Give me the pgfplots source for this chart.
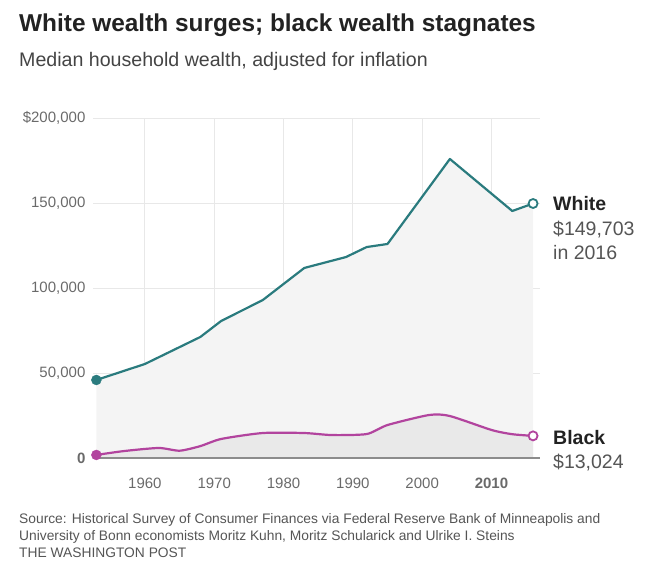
\documentclass[border=0pt]{standalone}
\usepackage{fontspec}
\setmainfont{Liberation Sans}
\usepackage{pgfplots}
\pgfplotsset{compat=1.18}
\definecolor{teal2}{HTML}{2A7B7E}
\definecolor{mag}{HTML}{B2449E}
\definecolor{gridc}{HTML}{E8E8E8}
\definecolor{lab}{HTML}{6A6A6A}
\definecolor{fillw}{HTML}{F4F4F4}
\definecolor{fillb}{HTML}{E9E9E9}
\definecolor{titc}{HTML}{222222}
\definecolor{subc}{HTML}{444444}
\definecolor{srcc}{HTML}{555555}
\definecolor{basec}{HTML}{8C8C8C}

\pgfplotstableread{
year value
1953 45900
1960 55300
1968 71200
1971 80600
1977 92900
1983 111800
1989 118200
1992 124100
1995 125900
2004 175900
2007 165700
2010 155500
2013 145300
2016 149703
}\whitedata

\pgfplotstableread{
year value
1953 1800
1957 4100
1962 5900
1965 4300
1968 7000
1971 11200
1977 14700
1983 14700
1987 13500
1992 14100
1995 19400
2001 25300
2004 24700
2010 16500
2013 14000
2016 13024
}\blackdata

\begin{document}
\begin{tikzpicture}[x=1pt,y=1pt]
\useasboundingbox (0,0) rectangle (652,-563);
\begin{axis}[
  at={(92.9pt,-458pt)}, anchor=south west,
  scale only axis, width=447.1pt, height=340pt,
  xmin=1952.5, xmax=2017, ymin=0, ymax=200000,
  scaled y ticks=false,
  axis line style={draw=none},
  major tick length=0pt,
  grid=major, grid style={gridc, line width=1pt},
  xtick={1960,1970,1980,1990,2000,2010},
  xticklabels={1960,1970,1980,1990,2000,\textbf{2010}},
  ytick={0,50000,100000,150000,200000},
  yticklabels={\textbf{0},{50,000},{100,000},{150,000},{\$200,000}},
  /pgf/number format/assume math mode=true,
  ticklabel style={font=\fontsize{15}{15}\selectfont, text=lab},
  xticklabel style={yshift=-16.5pt},
  yticklabel style={xshift=-4pt},
  clip=false,
  axis on top=false,
]
\addplot[draw=none, fill=fillw] table[x=year,y=value] {\whitedata} \closedcycle;
\addplot[draw=none, fill=fillb, smooth, tension=0.4] table[x=year,y=value] {\blackdata} \closedcycle;
\draw[basec, line width=2pt] (axis cs:1952.5,0) -- (axis cs:2017,0);
\addplot[teal2, line width=2.2pt, line join=round] table[x=year,y=value] {\whitedata};
\addplot[mag, line width=2.2pt, smooth, tension=0.4] table[x=year,y=value] {\blackdata};
\addplot[only marks, mark=*, mark size=5pt, teal2] coordinates {(1953,45900)};
\addplot[only marks, mark=*, mark size=5pt, mag] coordinates {(1953,1800)};
\addplot[only marks, mark=*, mark size=4.5pt, mark options={fill=white, draw=teal2, line width=1.8pt}] coordinates {(2016,149703)};
\addplot[only marks, mark=*, mark size=4.5pt, mark options={fill=white, draw=mag, line width=1.8pt}] coordinates {(2016,13024)};
\end{axis}
% titles
\node[anchor=base west, inner sep=0, text=titc, font=\fontsize{24.4}{28}\selectfont\bfseries] at (19,-31) {White wealth surges; black wealth stagnates};
\node[anchor=base west, inner sep=0, text=subc, font=\fontsize{19.6}{24}\selectfont] at (19,-66) {Median household wealth, adjusted for inflation};
% end labels
\node[anchor=base west, inner sep=0, text=titc, font=\fontsize{19.5}{24}\selectfont\bfseries] at (553,-210) {White};
\node[anchor=base west, inner sep=0, text=srcc, font=\fontsize{19.5}{24}\selectfont] at (553,-235) {\$149,703};
\node[anchor=base west, inner sep=0, text=srcc, font=\fontsize{19.5}{24}\selectfont] at (553,-259) {in 2016};
\node[anchor=base west, inner sep=0, text=titc, font=\fontsize{19.5}{24}\selectfont\bfseries] at (553,-444) {Black};
\node[anchor=base west, inner sep=0, text=srcc, font=\fontsize{19.5}{24}\selectfont] at (553,-468) {\$13,024};
% source
\node[anchor=base west, inner sep=0, text=srcc, font=\fontsize{13.8}{16}\selectfont] at (19,-523) {Source: Historical Survey of Consumer Finances via Federal Reserve Bank of Minneapolis and};
\node[anchor=base west, inner sep=0, text=srcc, font=\fontsize{13.8}{16}\selectfont] at (19,-540) {University of Bonn economists Moritz Kuhn, Moritz Schularick and Ulrike I. Steins};
\node[anchor=base west, inner sep=0, text=srcc, font=\fontsize{13.8}{16}\selectfont] at (19,-557) {THE WASHINGTON POST};
\end{tikzpicture}
\end{document}
